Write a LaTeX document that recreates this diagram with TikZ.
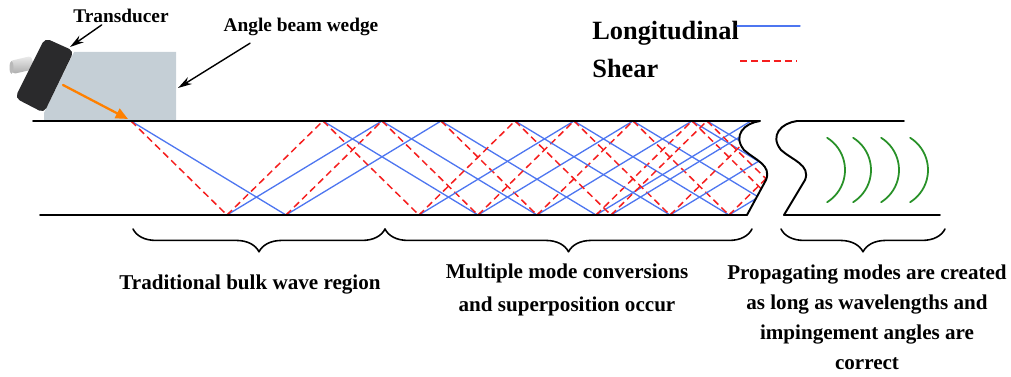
\documentclass[tikz,border=0pt]{standalone}
\usepackage{xcolor}
\usepackage{fontspec}
\setmainfont{Liberation Serif}
\usetikzlibrary{arrows.meta,decorations.pathreplacing}
\definecolor{longblue}{RGB}{78,118,240}
\definecolor{shearred}{RGB}{245,30,30}
\definecolor{wedgegray}{RGB}{197,207,214}
\definecolor{probe}{RGB}{42,42,44}
\definecolor{lamb}{RGB}{40,145,40}

\begin{document}
\begin{tikzpicture}[x=0.02cm, y=-0.02cm, line join=round, line cap=round, >=stealth,
	longi/.style={draw=longblue, line width=0.75pt},
	shear/.style={draw=shearred, line width=0.85pt, line cap=butt, dash pattern=on 4pt off 2.4pt},
	plate/.style={draw=black, line width=1.1pt},
	pointer/.style={draw=black, line width=0.8pt, -{Stealth[length=8pt,width=4.5pt]}},
	lbl/.style={font=\fontsize{11}{13}\selectfont\bfseries, inner sep=1pt},
	note/.style={font=\fontsize{12}{17}\selectfont\bfseries, align=center, inner sep=1pt},
	legend/.style={font=\fontsize{15}{17}\selectfont\bfseries, inner sep=0pt, anchor=west}]
	\useasboundingbox (0,0) rectangle (1011,377);
	% Nêm góc và đầu dò
	\fill[wedgegray] (74,52) -- (176,52) -- (176,121) -- (44,121) -- (44,113) -- cycle;
	\shade[top color=gray!15, bottom color=gray!65, rounded corners=1.5pt] (10,61) -- (31,56) -- (35,69) -- (13,74) -- cycle;
	\fill[gray!55] (11.5,67.5) ellipse (2 and 6.5);
	\fill[probe, rounded corners=3pt] (45,38) -- (74,51) -- (44,113) -- (15,98) -- cycle;
	% Chùm tia vào
	\draw[orange, line width=1.3pt, -{Triangle[length=7pt,width=6pt]}] (63,85) -- (128,119);
	% Các tia phản xạ trong tấm (dọc và ngang)
	\begin{scope}
		\clip (33,121) -- (760,121) .. controls (745,123) and (732,135) .. (744,150) .. controls (755,160) and (772,165) .. (766,180) -- (747,215) -- (33,215) -- cycle;
		\foreach \k in {0,...,6}{
			\foreach \a in {0,...,\k}{
				\pgfmathsetmacro{\xs}{131+155*\a+96*(\k-\a)}
				\pgfmathsetmacro{\ya}{121+94*mod(\k,2)}
				\pgfmathsetmacro{\yb}{215-94*mod(\k,2)}
				\draw[longi] (\xs,\ya) -- (\xs+155,\yb);
				\draw[shear] (\xs,\ya) -- (\xs+96,\yb);
			}
		}
	\end{scope}
	% Hai đoạn tấm
	\draw[plate] (33,121) -- (760,121) .. controls (745,123) and (732,135) .. (744,150) .. controls (755,160) and (772,165) .. (766,180) -- (747,215) -- (40,215);
	\draw[plate] (904,121) -- (797,121) .. controls (782,123) and (769,135) .. (781,150) .. controls (792,160) and (811,165) .. (805,180) -- (784,215) -- (940,215);
	% Sóng lan truyền
	\foreach \c in {807,833,861,890}
		\draw[lamb, line width=1pt] (\c,170) ++(-58:38) arc[start angle=-58, end angle=58, radius=38];
	% Nhãn và mũi tên chỉ
	\node[lbl] (transducer) at (121,16) {Transducer};
	\node[lbl] (wedgelabel) at (301,27) {Angle beam wedge};
	\coordinate (probetip) at (70,47);
	\coordinate (wedgetip) at (178,88);
	\draw[pointer] ([xshift=-11pt]transducer.south) -- (probetip);
	\draw[pointer] ([xshift=-29pt,yshift=-3pt]wedgelabel.south) -- (wedgetip);
	% Chú thích
	\node[legend] (leglong) at (592,33) {Longitudinal};
	\node[legend] (legshear) at (592,68) {Shear};
	\coordinate (la) at (737,26);
	\coordinate (lb) at (800,26);
	\coordinate (sa) at (740,61);
	\coordinate (sb) at (797,61);
	\draw[longi] (la) -- (lb);
	\draw[shear] (sa) -- (sb);
	% Dấu ngoặc vùng
	\draw[line width=0.9pt, decorate, decoration={brace, mirror, amplitude=13pt}] (133,229) -- (385,229);
	\draw[line width=0.9pt, decorate, decoration={brace, mirror, amplitude=13pt}] (385,229) -- (752,229);
	\draw[line width=0.9pt, decorate, decoration={brace, mirror, amplitude=13pt}] (781,229) -- (945,229);
	\node[note] (bulk) at (250,285) {Traditional bulk wave region};
	\node[note] (multi) at (567,290) {Multiple mode conversions\\[1.5pt]and superposition occur};
	\node[note] (prop) at (867,317) {Propagating modes are created\\as long as wavelengths and\\impingement angles are\\correct};
\end{tikzpicture}
\end{document}
